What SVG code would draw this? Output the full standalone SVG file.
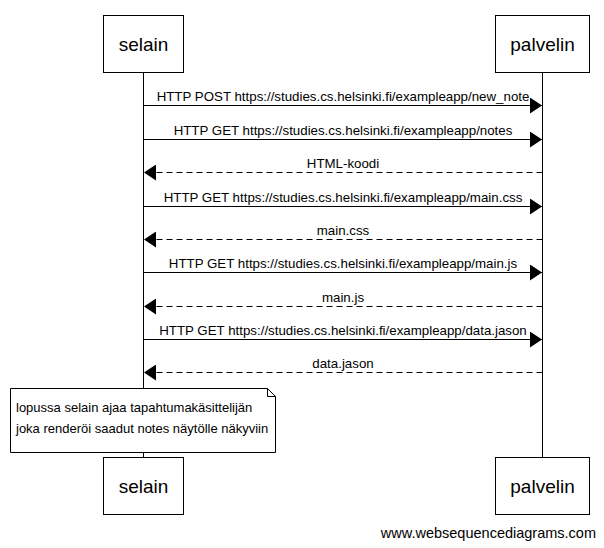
<svg xmlns="http://www.w3.org/2000/svg" width="604" height="548" viewBox="0 0 604 548">
<defs>
<style>
.box{fill:#fff;stroke:#000;stroke-width:1}
.life{stroke:#000;stroke-width:1}
.msg{stroke:#000;stroke-width:1;fill:none}
.ret{stroke:#000;stroke-width:1;fill:none;stroke-dasharray:6,4}
.pt{font-family:"Liberation Sans",Arial,sans-serif;font-size:19px;fill:#000;text-anchor:middle}
.lbl{font-family:"Liberation Sans",Arial,sans-serif;font-size:13.3px;fill:#000;text-anchor:middle}
.note{font-family:"Liberation Sans",Arial,sans-serif;font-size:13px;fill:#000}
.foot{font-family:"Liberation Sans",Arial,sans-serif;font-size:14.5px;fill:#000;text-anchor:end}
</style>
<marker id="ah" viewBox="0 0 12 16" refX="12" refY="8" markerWidth="12" markerHeight="16" markerUnits="userSpaceOnUse" orient="auto">
<path d="M0,0 L12,8 L0,16 Z" fill="#000"/>
</marker>
</defs>
<rect width="604" height="548" fill="#fff"/>
<g id="lifelines">
<line class="life" x1="143.5" y1="72" x2="143.5" y2="388"/>
<line class="life" x1="143.5" y1="452" x2="143.5" y2="457"/>
<line class="life" x1="542.5" y1="72" x2="542.5" y2="457"/>
</g>
<g id="connectors">
<line class="msg" x1="143.5" y1="105.5" x2="542" y2="105.5" marker-end="url(#ah)"/>
<line class="msg" x1="143.5" y1="139.5" x2="542" y2="139.5" marker-end="url(#ah)"/>
<line class="ret" x1="542.5" y1="172.5" x2="144" y2="172.5" marker-end="url(#ah)"/>
<line class="msg" x1="143.5" y1="206.5" x2="542" y2="206.5" marker-end="url(#ah)"/>
<line class="ret" x1="542.5" y1="239.5" x2="144" y2="239.5" marker-end="url(#ah)"/>
<line class="msg" x1="143.5" y1="272.5" x2="542" y2="272.5" marker-end="url(#ah)"/>
<line class="ret" x1="542.5" y1="306.5" x2="144" y2="306.5" marker-end="url(#ah)"/>
<line class="msg" x1="143.5" y1="339.5" x2="542" y2="339.5" marker-end="url(#ah)"/>
<line class="ret" x1="542.5" y1="372.5" x2="144" y2="372.5" marker-end="url(#ah)"/>
<text class="lbl" x="343" y="101">HTTP POST https://studies.cs.helsinki.fi/exampleapp/new_note</text>
<text class="lbl" x="343" y="135">HTTP GET https://studies.cs.helsinki.fi/exampleapp/notes</text>
<text class="lbl" x="343" y="168">HTML-koodi</text>
<text class="lbl" x="343" y="202">HTTP GET https://studies.cs.helsinki.fi/exampleapp/main.css</text>
<text class="lbl" x="343" y="235">main.css</text>
<text class="lbl" x="343" y="268">HTTP GET https://studies.cs.helsinki.fi/exampleapp/main.js</text>
<text class="lbl" x="343" y="302">main.js</text>
<text class="lbl" x="343" y="335">HTTP GET https://studies.cs.helsinki.fi/exampleapp/data.jason</text>
<text class="lbl" x="343" y="368">data.jason</text>
</g>
<g id="selain-top">
<rect class="box" x="103.5" y="15.5" width="80" height="57"/>
<text class="pt" x="143.5" y="51">selain</text>
</g>
<g id="palvelin-top">
<rect class="box" x="495.5" y="15.5" width="94" height="57"/>
<text class="pt" x="542.5" y="51">palvelin</text>
</g>
<g id="note">
<path class="box" d="M10.5,388.5 H267.5 L275.5,396.5 V452.5 H10.5 Z"/>
<path class="msg" d="M267.5,388.5 V396.5 H275.5"/>
<text class="note" x="16" y="412">lopussa selain ajaa tapahtumakäsittelijän</text>
<text class="note" x="16" y="433">joka renderöi saadut notes näytölle näkyviin</text>
</g>
<g id="selain-bottom">
<rect class="box" x="103.5" y="457.5" width="80" height="57"/>
<text class="pt" x="143.5" y="493">selain</text>
</g>
<g id="palvelin-bottom">
<rect class="box" x="495.5" y="457.5" width="94" height="57"/>
<text class="pt" x="542.5" y="493">palvelin</text>
</g>
<text class="foot" x="596" y="538">www.websequencediagrams.com</text>
</svg>
